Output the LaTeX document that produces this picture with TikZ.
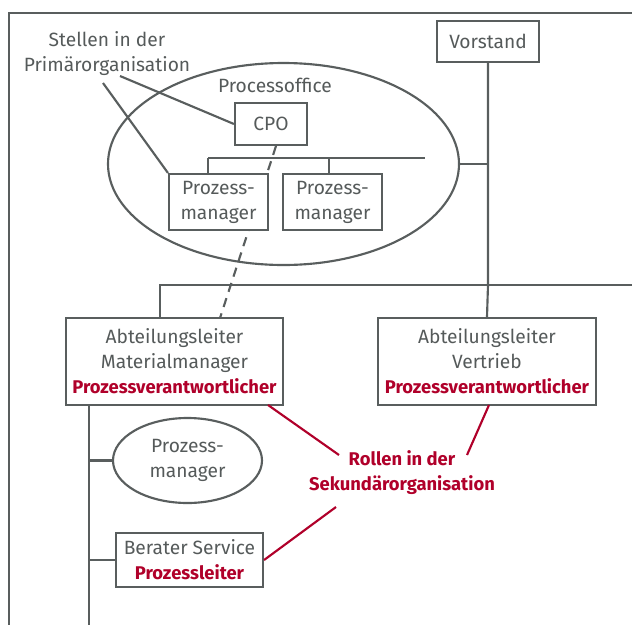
\documentclass[tikz,border=0pt]{standalone}
\usepackage{fontspec}
\setmainfont{Fira Sans}
\usetikzlibrary{shapes.geometric}
\definecolor{lg}{HTML}{595E5E}
\definecolor{tg}{HTML}{555A5A}
\definecolor{rd}{HTML}{B0002A}
\newcommand{\rb}[1]{{\color{rd}\bfseries\fontsize{13.8}{18.75}\selectfont #1}}
\begin{document}
\begin{tikzpicture}[x=0.75pt,y=-0.75pt,
  ln/.style={draw=lg,line width=1.6pt},
  rl/.style={draw=rd,line width=1.6pt},
  bx/.style 2 args={ln,fill=white,rectangle,inner sep=0pt,align=center,text=tg,
     minimum width=#1*0.75pt,minimum height=#2*0.75pt},
  el/.style 2 args={ln,ellipse,inner sep=0pt,align=center,text=tg,
     minimum width=#1*0.75pt,minimum height=#2*0.75pt},
  lbl/.style={inner sep=0pt,align=center,text=tg},
  rlbl/.style={inner sep=0pt,align=center,text=rd,font=\bfseries\fontsize{13.8}{18.75}\selectfont},
  font=\fontsize{14.4}{18.75}\selectfont]
\useasboundingbox (0,0) rectangle (632,625);
% frame
\coordinate (fTR) at (632,13);
\coordinate (fTL) at (9,13);
\coordinate (fBL) at (9,625);
\draw[ln] (fTR) -- (fTL) -- (fBL);
% big ellipse
\node[el={351}{202}] (po) at (283.5,164) {};
\node[lbl] (potxt) at (275,85) {Processoffice};
% dashed connector (behind boxes)
\coordinate (dA) at (276,146);
\coordinate (dB) at (220,318);
\draw[ln,dashed,dash pattern=on 7pt off 5pt] (dA) -- (dB);
% boxes
\node[bx={102}{41}] (vor) at (488,41.5) {Vorstand};
\node[bx={72}{42}] (cpo) at (271,124) {CPO};
\node[bx={99}{56}] (pm1) at (218.5,202) {Prozess-\\manager};
\node[bx={99}{56}] (pm2) at (332.5,202) {Prozess-\\manager};
\node[bx={217}{87}] (am) at (174.5,361.5) {Abteilungsleiter\\Materialmanager\\\rb{Prozessverantwortlicher}};
\node[bx={218}{87}] (av) at (487,361.5) {Abteilungsleiter\\Vertrieb\\\rb{Prozessverantwortlicher}};
\node[el={149}{85}] (pm3) at (187.5,460.5) {Prozess-\\manager};
\node[bx={147}{54}] (bs) at (189.5,560) {Berater Service\\\rb{Prozessleiter}};
% labels
\node[lbl] (st) at (107,54) {Stellen in der\\Primärorganisation};
\node[rlbl] (ro) at (402,473) {Rollen in der\\Sekundärorganisation};
% processoffice bar
\coordinate (barL) at (208,158);
\coordinate (barR) at (425,158);
\coordinate (t2) at (329,158);
\draw[ln] (barL) -- (barR);
\draw[ln] (barL) -- (barL |- pm1.north);
\draw[ln] (t2) -- (t2 |- pm2.north);
% Vorstand trunk
\coordinate (j1) at (488,285);
\coordinate (hL) at (160,285);
\coordinate (hR) at (632,285);
\draw[ln] (vor.south) -- (j1) -- (av.north);
\draw[ln] (hR) -- (hL) -- (hL |- am.north);
\draw[ln] (po.east) -- (po.east -| vor.south);
% left trunk under Materialmanager
\coordinate (lt) at (89,405);
\coordinate (lb) at (89,625);
\draw[ln] (lt) -- (lb);
\draw[ln] (lt |- pm3.west) -- (pm3.west);
\draw[ln] (lt |- bs.west) -- (bs.west);
% Stellen lines
\coordinate (s1) at (103,83);
\coordinate (s2) at (120,76);
\draw[ln] (s1) -- (pm1.north west);
\draw[ln] (s2) -- (cpo.west);
% red lines
\coordinate (r1) at (339,455);
\coordinate (r2) at (467,455);
\coordinate (r3) at (336,507);
\coordinate (amr) at (268,405);
\coordinate (avb) at (489,405);
\draw[rl] (amr) -- (r1);
\draw[rl] (avb) -- (r2);
\draw[rl] (r3) -- (bs.east);
\end{tikzpicture}
\end{document}
